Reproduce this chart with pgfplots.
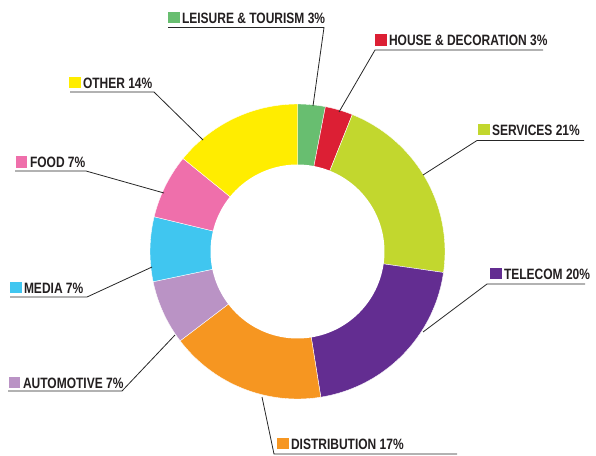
\documentclass[border=0pt]{standalone}
\usepackage{fontspec}
\setmainfont{Liberation Sans}[FakeStretch=0.8]
\usepackage{xcolor}
\usepackage{pgfplots}
\pgfplotsset{compat=1.18}

\definecolor{CLeisure}{RGB}{104,190,112}
\definecolor{CHouse}{RGB}{220,31,52}
\definecolor{CServices}{RGB}{194,215,46}
\definecolor{CTelecom}{RGB}{99,45,145}
\definecolor{CDistrib}{RGB}{246,150,33}
\definecolor{CAuto}{RGB}{186,147,197}
\definecolor{CMedia}{RGB}{64,198,240}
\definecolor{CFood}{RGB}{239,111,171}
\definecolor{COther}{RGB}{255,237,0}
\definecolor{TextDark}{RGB}{35,31,32}

% donut geometry (picture units = pt, y downwards)
\def\cx{297.5}
\def\cy{251.5}
\def\Ro{147.5}
\def\Ri{87}
\def\total{99}
\def\cum{0}

% \slice{value}{colour}: wedge from the running total, clockwise from the top
\newcommand\slice[2]{%
  \pgfmathsetmacro\sa{360/\total*\cum}%
  \pgfmathsetmacro\sb{360/\total*(\cum+#1)}%
  \pgfmathsetmacro\newcum{\cum+#1}%
  \xdef\cum{\newcum}%
  \edef\temp{\noexpand\addplot[fill=#2, draw=white, line width=0.4pt,
      domain=\sa:\sb, samples=60, variable=\noexpand\t]
      ({\cx+\Ro*sin(\noexpand\t)},{\cy-\Ro*cos(\noexpand\t)})
      -- (axis cs:\cx,\cy) -- cycle;}%
  \temp}

\newcommand\lab[2]{{\color{#1}\rule{11.5pt}{11.5pt}}\hspace{2.5pt}#2}

\begin{document}
\begin{tikzpicture}[
    lbl/.style={font=\fontsize{15}{15}\selectfont\bfseries, text=TextDark,
        anchor=base west, inner sep=0pt, outer sep=0pt},
]
\begin{axis}[
    name=ax,
    scale only axis,
    width=596pt, height=455pt,
    xmin=0, xmax=596, ymin=0, ymax=455,
    y dir=reverse,
    hide axis,
    clip=false,
]
\slice{3}{CLeisure}
\slice{3}{CHouse}
\slice{21}{CServices}
\slice{20}{CTelecom}
\slice{17}{CDistrib}
\slice{7}{CAuto}
\slice{7}{CMedia}
\slice{7}{CFood}
\slice{14}{COther}

\addplot[fill=white, draw=none, domain=0:360, samples=150, variable=\t]
    ({\cx+\Ri*sin(\t)},{\cy-\Ri*cos(\t)}) -- cycle;

% underlines and leader lines
\addplot[black!85, line width=0.8pt] coordinates {(168,27.5) (324,27.5) (313,106)};
\addplot[black!85, line width=0.8pt] coordinates {(543,50) (375,50) (339,112)};
\addplot[black!85, line width=0.8pt] coordinates {(584,140.5) (477,140.5) (423,175)};
\addplot[black!85, line width=0.8pt] coordinates {(585,284) (487,284) (423,332)};
\addplot[black!85, line width=0.8pt] coordinates {(457,454) (274,454) (262,397)};
\addplot[black!85, line width=0.8pt] coordinates {(8,391) (122,391) (175,335)};
\addplot[black!85, line width=0.8pt] coordinates {(10,297) (87,297) (152,267)};
\addplot[black!85, line width=0.8pt] coordinates {(15,171) (86,171) (164,193)};
\addplot[black!85, line width=0.8pt] coordinates {(70,92) (154,92) (203,140)};

\node[lbl] at (axis cs:168,23) {\lab{CLeisure}{LEISURE \& TOURISM 3\%}};
\node[lbl] at (axis cs:375,45.5) {\lab{CHouse}{HOUSE \& DECORATION 3\%}};
\node[lbl] at (axis cs:478,135) {\lab{CServices}{SERVICES 21\%}};
\node[lbl] at (axis cs:490,279) {\lab{CTelecom}{TELECOM 20\%}};
\node[lbl] at (axis cs:277,449) {\lab{CDistrib}{DISTRIBUTION 17\%}};
\node[lbl] at (axis cs:9,388) {\lab{CAuto}{AUTOMOTIVE 7\%}};
\node[lbl] at (axis cs:10,293) {\lab{CMedia}{MEDIA 7\%}};
\node[lbl] at (axis cs:16,167.5) {\lab{CFood}{FOOD 7\%}};
\node[lbl] at (axis cs:69,88) {\lab{COther}{OTHER 14\%}};
\end{axis}
\pgfresetboundingbox
\path (ax.south west) rectangle (ax.north east);
\end{tikzpicture}
\end{document}
